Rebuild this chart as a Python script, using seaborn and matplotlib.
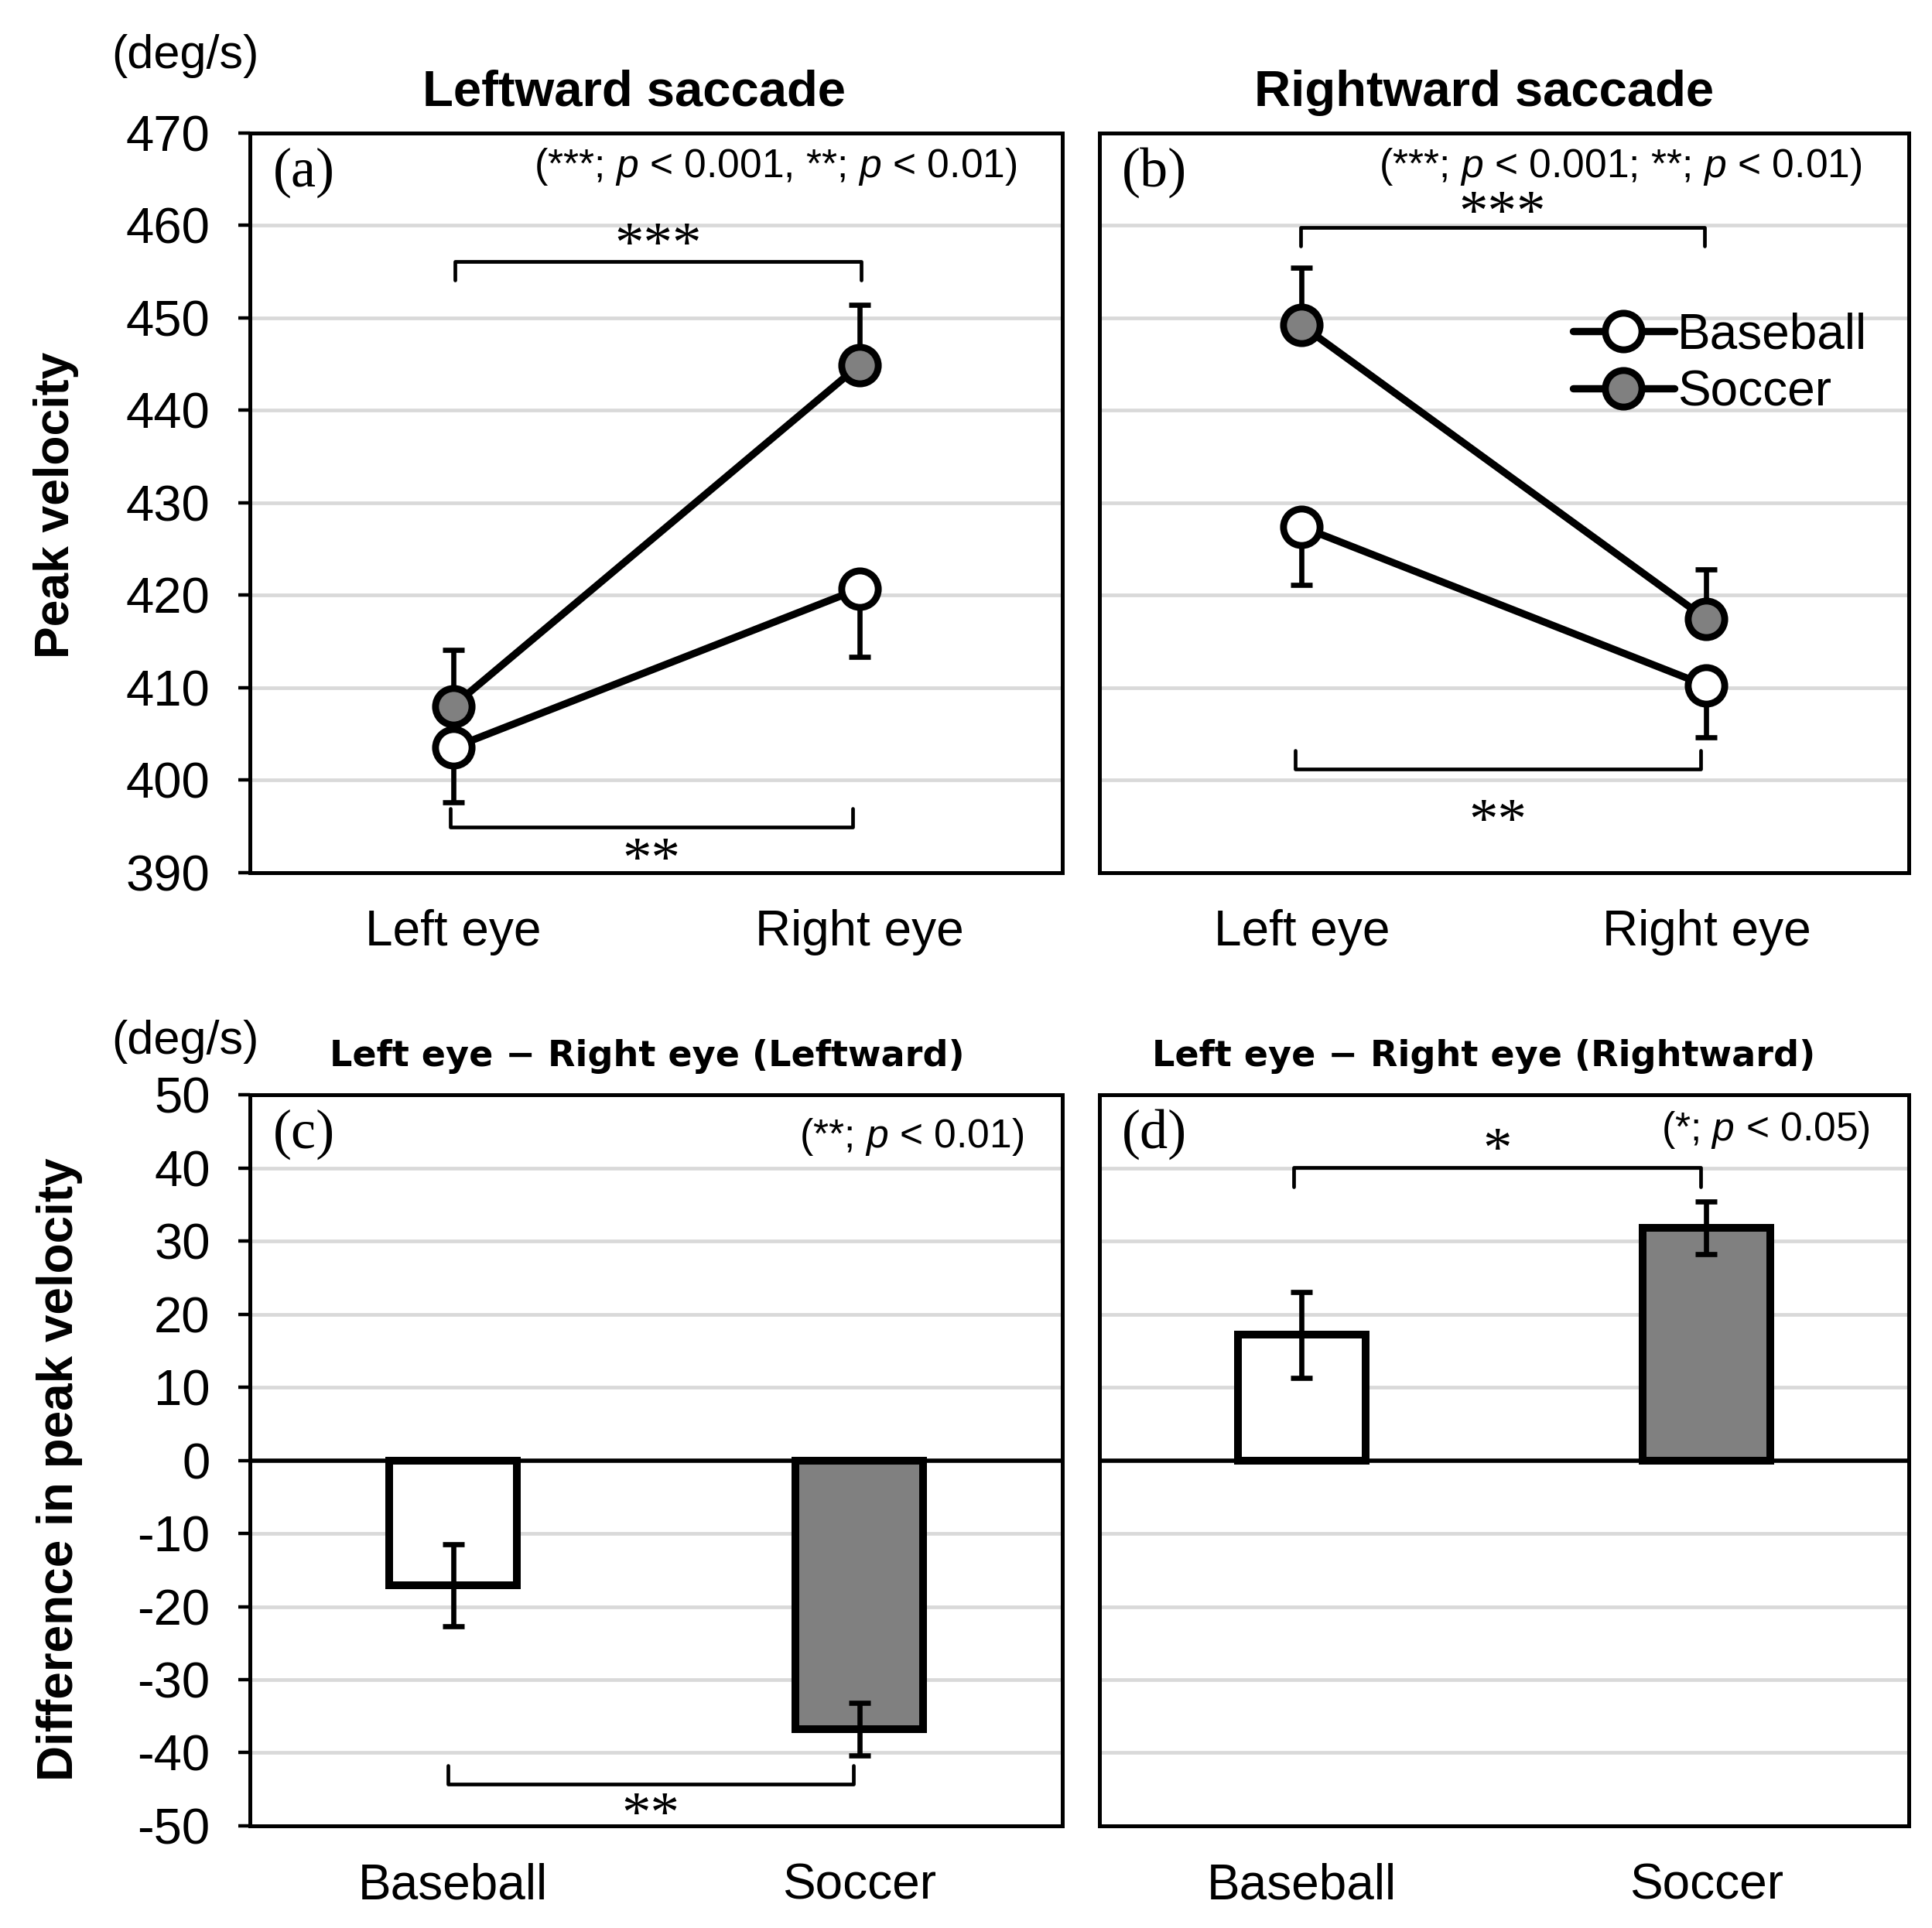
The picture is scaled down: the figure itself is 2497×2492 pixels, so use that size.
import pandas as pd
import matplotlib
matplotlib.use('Agg')
import matplotlib.pyplot as plt
import seaborn as sns

# categories
eyes = ['Left eye', 'Right eye']
sports = ['Baseball', 'Soccer']

# (a) leftward saccade, peak velocity (deg/s) and SE
left_baseball = [403.5, 420.7]
left_baseball_se = [5.9, 7.4]
left_soccer = [408.0, 444.9]
left_soccer_se = [6.1, 6.5]

# (b) rightward saccade
right_baseball = [427.4, 410.2]
right_baseball_se = [6.3, 5.6]
right_soccer = [449.2, 417.4]
right_soccer_se = [6.2, 5.4]

# (c), (d) left eye - right eye
diff_left = [-17.1, -36.8]
diff_left_se = [5.6, 3.6]
diff_right = [17.2, 31.8]
diff_right_se = [5.9, 3.6]

sns.set_style('white')
plt.rcParams['font.family'] = ['Liberation Sans', 'DejaVu Sans']
plt.rcParams['mathtext.fontset'] = 'custom'
plt.rcParams['mathtext.rm'] = 'Liberation Sans'
plt.rcParams['mathtext.it'] = 'Liberation Sans:italic'
plt.rcParams['axes.unicode_minus'] = False
plt.rcParams['text.color'] = 'black'
plt.rcParams['xtick.color'] = 'black'
plt.rcParams['ytick.color'] = 'black'
plt.rcParams['axes.labelcolor'] = 'black'

GRAY = '#808080'
GRID = '#d9d9d9'

fig = plt.figure(figsize=(12.485, 12.46), dpi=200)
fig.patch.set_facecolor('white')
ax_a = fig.add_axes([0.1294, 0.5475, 0.4206, 0.3835])
ax_b = fig.add_axes([0.569, 0.5475, 0.419, 0.3835])
ax_c = fig.add_axes([0.1294, 0.053, 0.4206, 0.379])
ax_d = fig.add_axes([0.569, 0.053, 0.419, 0.379])


def style_axis(ax, ylim, step, labels, show_y):
    ax.set_xlim(-0.5, 1.5)
    ax.set_ylim(*ylim)
    ax.set_yticks(range(ylim[0], ylim[1] + 1, step))
    ax.set_xticks([0, 1])
    ax.set_xticklabels(labels)
    ax.yaxis.grid(True, color=GRID, lw=1.7)
    ax.xaxis.grid(False)
    ax.set_axisbelow(True)
    for s in ax.spines.values():
        s.set_visible(True)
        s.set_color('black')
        s.set_linewidth(1.8)
    ax.tick_params(axis='x', length=0, pad=17, labelsize=23)
    if show_y:
        ax.tick_params(axis='y', length=5.5, width=1.6, pad=13, labelsize=23.5, left=True)
    else:
        ax.tick_params(axis='y', length=0, labelleft=False)
    ax.set_xlabel('')
    ax.set_ylabel('')


def draw_lines(ax, base, base_se, soc, soc_se):
    x = [0, 1]
    ax.errorbar(x, soc, yerr=[[0, 0], soc_se], fmt='none', ecolor='black',
                elinewidth=2.4, capsize=5.0, capthick=2.4, zorder=1.5)
    ax.errorbar(x, base, yerr=[base_se, [0, 0]], fmt='none', ecolor='black',
                elinewidth=2.4, capsize=5.0, capthick=2.4, zorder=1.5)
    sns.lineplot(x=x, y=soc, ax=ax, color='black', lw=3.4, marker='o', markersize=17,
                 markerfacecolor=GRAY, markeredgecolor='black', markeredgewidth=3.2, label='Soccer')
    sns.lineplot(x=x, y=base, ax=ax, color='black', lw=3.4, marker='o', markersize=17,
                 markerfacecolor='white', markeredgecolor='black', markeredgewidth=3.2, label='Baseball')
    if ax.get_legend() is not None:
        ax.get_legend().remove()


def draw_bars(ax, vals, se):
    sns.barplot(x=sports, y=vals, hue=sports, palette=['white', GRAY], edgecolor='black',
                linewidth=3.6, width=0.315, errorbar=None, legend=False, ax=ax, zorder=2)
    ax.errorbar([0, 1], vals, yerr=se, fmt='none', ecolor='black',
                elinewidth=2.4, capsize=5.0, capthick=2.4, zorder=4)
    ax.axhline(0, color='black', lw=2, zorder=3)


def bracket(ax, x0, x1, y, tip, stars, ty):
    ax.plot([x0, x0, x1, x1], [tip, y, y, tip], color='black', lw=1.7, zorder=3)
    ax.text((x0 + x1) / 2, ty, stars, ha='center', va='center', fontsize=27,
            family='Liberation Serif', zorder=5)


draw_lines(ax_a, left_baseball, left_baseball_se, left_soccer, left_soccer_se)
draw_lines(ax_b, right_baseball, right_baseball_se, right_soccer, right_soccer_se)
draw_bars(ax_c, diff_left, diff_left_se)
draw_bars(ax_d, diff_right, diff_right_se)

style_axis(ax_a, (390, 470), 10, eyes, True)
style_axis(ax_b, (390, 470), 10, eyes, False)
style_axis(ax_c, (-50, 50), 10, sports, True)
style_axis(ax_d, (-50, 50), 10, sports, False)

# significance brackets
bracket(ax_a, 0.005, 1.005, 456.1, 454.1, '***', 457.6)
bracket(ax_a, -0.007, 0.984, 394.9, 396.9, '**', 391.0)
bracket(ax_b, -0.003, 0.995, 459.8, 457.8, '***', 461.0)
bracket(ax_b, -0.016, 0.986, 401.2, 403.2, '**', 395.2)
bracket(ax_c, -0.012, 0.985, -44.3, -41.7, '**', -48.9)
bracket(ax_d, -0.02, 0.986, 40.1, 37.5, '*', 42.1)

# legend on (b)
h, l = ax_b.get_legend_handles_labels()
order = [l.index('Baseball'), l.index('Soccer')]
ax_b.legend([h[i] for i in order], [l[i] for i in order], loc='center left',
            bbox_to_anchor=(0.585, 0.688), frameon=False, borderpad=0, borderaxespad=0,
            handlelength=2.05, handletextpad=0.06, labelspacing=0.22, fontsize=23)

# panel letters and p-value notes
notes = {ax_a: ('(a)', '(***; $\\it{p}$ < 0.001, **; $\\it{p}$ < 0.01)', 0.944, 0.954),
         ax_b: ('(b)', '(***; $\\it{p}$ < 0.001; **; $\\it{p}$ < 0.01)', 0.942, 0.954),
         ax_c: ('(c)', '(**; $\\it{p}$ < 0.01)', 0.952, 0.943),
         ax_d: ('(d)', '(*; $\\it{p}$ < 0.05)', 0.952, 0.952)}
for ax, (letter, note, nx, ny) in notes.items():
    ax.text(0.028, 0.946, letter, transform=ax.transAxes, ha='left', va='center',
            fontsize=26, family='Liberation Serif')
    ax.text(nx, ny, note, transform=ax.transAxes, ha='right', va='center', fontsize=18.6)

# titles and labels
fig.text(0.328, 0.952, 'Leftward saccade', ha='center', va='center', fontsize=23.5, fontweight='bold')
fig.text(0.768, 0.952, 'Rightward saccade', ha='center', va='center', fontsize=23.5, fontweight='bold')
fig.text(0.335, 0.452, 'Left eye \u2212 Right eye (Leftward)', ha='center', va='center',
         fontsize=16.6, fontweight='bold', family='DejaVu Sans')
fig.text(0.768, 0.452, 'Left eye \u2212 Right eye (Rightward)', ha='center', va='center',
         fontsize=16.6, fontweight='bold', family='DejaVu Sans')
fig.text(0.096, 0.971, '(deg/s)', ha='center', va='center', fontsize=22)
fig.text(0.096, 0.4595, '(deg/s)', ha='center', va='center', fontsize=22)
fig.text(0.029, 0.738, 'Peak velocity', rotation=90, ha='center', va='center',
         fontsize=22.5, fontweight='bold')
fig.text(0.031, 0.238, 'Difference in peak velocity', rotation=90, ha='center', va='center',
         fontsize=23, fontweight='bold')

fig.savefig('out.png', dpi=200, facecolor='white')
